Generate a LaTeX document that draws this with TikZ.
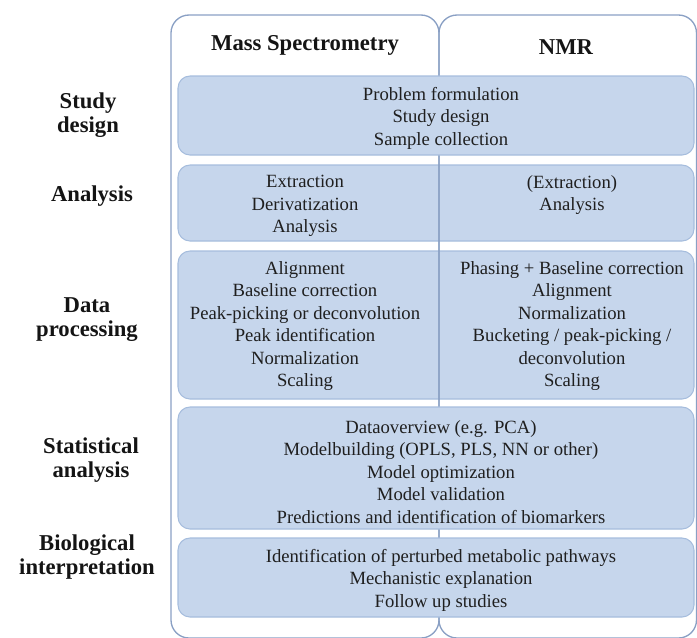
\documentclass[tikz,border=0pt]{standalone}
\usepackage{fontspec}
\setmainfont{Liberation Serif}
\usetikzlibrary{fit}

\definecolor{stagefill}{RGB}{198,214,236}
\definecolor{stageline}{RGB}{166,189,221}
\definecolor{colline}{RGB}{138,160,196}

\begin{document}
\begin{tikzpicture}[x=0.75pt,y=-0.75pt,
    stage/.style={rectangle,rounded corners=9pt,fill=stagefill,draw=stageline,line width=0.8pt,inner sep=0pt},
    steps/.style={align=center,font=\fontsize{14}{16.9}\selectfont,text=black!88},
    phase/.style={align=center,font=\fontsize{17}{18}\selectfont\bfseries,text=black!92},
    column/.style={draw=colline,line width=1pt,rounded corners=13.5pt}]
\useasboundingbox (0,0) rectangle (697,637);

% stages split between the two techniques sit under the divider
\node[stage,fit={(178,165) (694,241)}] (analysis) {};
\node[stage,fit={(178,251) (694,399)}] (processing) {};

% technique columns, the shared edge is the divider
\draw[column] (171,15) rectangle (439,638);
\draw[column] (439,15) rectangle (696.5,638);

% stages common to both techniques
\node[stage,fit={(178,76) (694,155)}] (design) {};
\node[stage,fit={(178,407) (694,529)}] (statistics) {};
\node[stage,fit={(178,538) (694,617)}] (interpretation) {};

% column heads
\node[phase] (ms) at (305,45) {Mass Spectrometry};
\node[phase] (nmr) at (566,47) {NMR};

% row labels
\node[phase] (l1) at (88,115) {Study\\design};
\node[phase] (l2) at (92,196) {Analysis};
\node[phase] (l3) at (87,319.5) {Data\\processing};
\node[phase] (l4) at (91,460) {Statistical\\analysis};
\node[phase] (l5) at (87,557) {Biological\\interpretation};

% contents
\node[steps] (t1) at (441,118) {Problem formulation\\Study design\\Sample collection};
\node[steps] (t2a) at (305,206) {Extraction\\Derivatization\\Analysis};
\node[steps] (t2b) at (572,195) {(Extraction)\\Analysis};
\node[steps] (t3a) at (305,326) {Alignment\\Baseline correction\\Peak-picking or deconvolution\\Peak identification\\Normalization\\Scaling};
\node[steps] (t3b) at (572,326) {Phasing + Baseline correction\\Alignment\\Normalization\\Bucketing / peak-picking /\\deconvolution\\Scaling};
\node[steps] (t4) at (441,472) {Dataoverview (e.g. PCA)\\Modelbuilding (OPLS, PLS, NN or other)\\Model optimization\\Model validation\\Predictions and identification of biomarkers};
\node[steps] (t5) at (441,580) {Identification of perturbed metabolic pathways\\Mechanistic explanation\\Follow up studies};
\end{tikzpicture}
\end{document}
